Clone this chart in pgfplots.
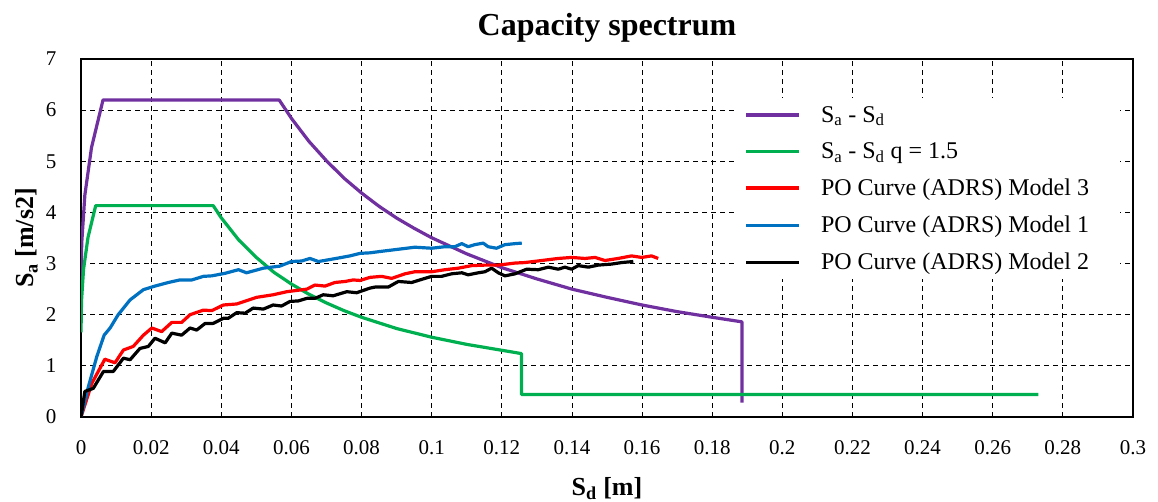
\documentclass[border=0pt]{standalone}
\usepackage{pgfplots}
\pgfplotsset{compat=1.18}
\usepackage{fontspec}
\setmainfont{Liberation Serif}
\definecolor{cpurple}{RGB}{112,48,160}
\definecolor{cgreen}{RGB}{0,176,80}
\definecolor{cred}{RGB}{255,0,0}
\definecolor{cblue}{RGB}{0,112,192}
\begin{document}
\begin{tikzpicture}
\useasboundingbox (0,0) rectangle (1158bp,502bp);
\begin{axis}[
  at={(81bp,85bp)}, anchor=south west,
  scale only axis, width=1052bp, height=358bp,
  xmin=0, xmax=0.3, ymin=0, ymax=7,
  xtick={0,0.02,0.04,0.06,0.08,0.1,0.12,0.14,0.16,0.18,0.2,0.22,0.24,0.26,0.28,0.3},
  ytick={0,1,2,3,4,5,6,7},
  /pgf/number format/.cd, fixed, precision=2, assume math mode=true, /pgfplots/.cd,
  grid=major,
  major grid style={black, line width=0.8bp, dash pattern=on 5bp off 4bp},
  major tick length=0pt,
  axis line style={black, line width=1.4bp},
  tick label style={font=\fontsize{21bp}{23bp}\selectfont},
  xticklabel style={yshift=-20bp},
  yticklabel style={xshift=-21bp},
  title={Capacity spectrum},
  title style={font=\fontsize{32bp}{34bp}\selectfont\bfseries, at={(0.5,1)}, anchor=base, yshift=18bp},
  xlabel={S\textsubscript{d} [m]},
  ylabel={S\textsubscript{a} [m/s2]},
  xlabel style={font=\fontsize{26bp}{28bp}\selectfont\bfseries, at={(0.5,0)}, anchor=base, yshift=-78bp},
  ylabel style={font=\fontsize{26bp}{28bp}\selectfont\bfseries, at={(0,0.5)}, anchor=base, yshift=47bp},
  legend style={draw=none, fill=white, at={(0.6204,0.891)}, anchor=north west,
    inner xsep=11bp, inner ysep=6bp,
    font=\fontsize{24bp}{26bp}\selectfont, row sep=15bp,
    /tikz/every odd column/.append style={column sep=18bp}},
  legend cell align=left,
  legend image code/.code={\draw[#1] (0bp,0bp) -- (53bp,0bp);},
  every axis plot/.append style={line width=3.2bp, line join=round},
]
\addplot[cpurple] coordinates {
(0,2.48) (0.0000289,2.852) (0.000216,3.41) (0.0011,4.34) (0.003,5.27) (0.00628,6.2)
(0.0565,6.2) (0.06,5.84) (0.065,5.39) (0.07,5.01) (0.075,4.67) (0.08,4.38) (0.085,4.12)
(0.09,3.89) (0.095,3.69) (0.1,3.505) (0.11,3.19) (0.12,2.92) (0.13,2.70) (0.14,2.50)
(0.15,2.34) (0.16,2.19) (0.17,2.06) (0.18,1.95) (0.1885,1.86) (0.1885,0.28)
};
\addlegendentry{S\textsubscript{a} - S\textsubscript{d}}
\addplot[cgreen] coordinates {
(0,1.653) (0.000144,2.273) (0.000733,2.893) (0.002,3.513) (0.00419,4.133)
(0.0377,4.133) (0.04,3.895) (0.045,3.46) (0.05,3.12) (0.055,2.83) (0.06,2.60)
(0.065,2.40) (0.07,2.23) (0.075,2.08) (0.08,1.95) (0.09,1.73) (0.1,1.56) (0.11,1.42)
(0.1256,1.24) (0.1256,0.44) (0.273,0.44)
};
\addlegendentry{S\textsubscript{a} - S\textsubscript{d} q = 1.5}
\addplot[cred] coordinates {
(0,0) (0.0031,0.66) (0.0068,1.13) (0.0097,1.06) (0.0121,1.31) (0.0149,1.38)
(0.0178,1.60) (0.0202,1.74) (0.0230,1.67) (0.0259,1.85) (0.0287,1.85) (0.0311,2.00)
(0.0349,2.09) (0.0373,2.08) (0.0406,2.19) (0.0444,2.21) (0.0501,2.34) (0.0548,2.39)
(0.0587,2.45) (0.0644,2.50) (0.0667,2.58) (0.0696,2.56) (0.0724,2.63) (0.0753,2.65)
(0.0776,2.68) (0.0796,2.67) (0.0824,2.73) (0.0857,2.75) (0.0886,2.71) (0.0924,2.80)
(0.0952,2.84) (0.1,2.84) (0.1038,2.88) (0.1076,2.91) (0.1114,2.96) (0.1152,2.97)
(0.119,2.97) (0.1238,3.01) (0.1266,3.02) (0.1314,3.06) (0.1361,3.10) (0.1399,3.12)
(0.1437,3.10) (0.1466,3.12) (0.1494,3.06) (0.1532,3.10) (0.157,3.15) (0.1599,3.12)
(0.1627,3.15) (0.1646,3.10)
};
\addlegendentry{PO Curve (ADRS) Model 3\hspace*{18bp}}
\addplot[cblue] coordinates {
(0,0) (0.0021,0.59) (0.0045,1.18) (0.0066,1.60) (0.0083,1.74) (0.0106,2.00)
(0.014,2.29) (0.0178,2.49) (0.0211,2.56) (0.0249,2.63) (0.0282,2.68) (0.0316,2.68)
(0.0349,2.75) (0.0373,2.76) (0.0411,2.81) (0.0449,2.88) (0.0472,2.82) (0.052,2.91)
(0.0567,2.95) (0.060,3.04) (0.0629,3.05) (0.0653,3.10) (0.0677,3.04) (0.0719,3.09)
(0.0767,3.15) (0.0796,3.20) (0.0824,3.21) (0.0857,3.24) (0.0905,3.28) (0.0952,3.32)
(0.1,3.30) (0.1038,3.33) (0.1066,3.33) (0.1086,3.39) (0.1104,3.33) (0.1123,3.37)
(0.1147,3.40) (0.1161,3.33) (0.1185,3.30) (0.1209,3.37) (0.1238,3.39) (0.1257,3.40)
};
\addlegendentry{PO Curve (ADRS) Model 1}
\addplot[black] coordinates {
(0,0) (0.0011,0.50) (0.0035,0.56) (0.0064,0.89) (0.0092,0.89) (0.0121,1.15)
(0.014,1.12) (0.0168,1.34) (0.0192,1.38) (0.0211,1.54) (0.024,1.45) (0.0259,1.64)
(0.0287,1.60) (0.0311,1.74) (0.033,1.70) (0.0354,1.83) (0.0377,1.83) (0.0406,1.93)
(0.042,1.93) (0.0444,2.04) (0.0468,2.03) (0.0491,2.13) (0.052,2.11) (0.0548,2.19)
(0.0572,2.17) (0.0596,2.26) (0.062,2.27) (0.0644,2.32) (0.0667,2.32) (0.0691,2.39)
(0.0719,2.37) (0.0758,2.45) (0.0786,2.43) (0.0824,2.52) (0.0838,2.54) (0.0876,2.54)
(0.0905,2.65) (0.0943,2.63) (0.0971,2.69) (0.1,2.75) (0.1028,2.75) (0.1057,2.80)
(0.1086,2.82) (0.1104,2.78) (0.1133,2.82) (0.1152,2.84) (0.1171,2.91) (0.119,2.82)
(0.1209,2.76) (0.1238,2.80) (0.1271,2.89) (0.1304,2.88) (0.1333,2.93) (0.1361,2.89)
(0.138,2.93) (0.1399,2.89) (0.1418,2.96) (0.1447,2.93) (0.1475,2.97) (0.1513,2.99)
(0.1542,3.02) (0.1575,3.04)
};
\addlegendentry{PO Curve (ADRS) Model 2}
\end{axis}
\end{tikzpicture}
\end{document}
